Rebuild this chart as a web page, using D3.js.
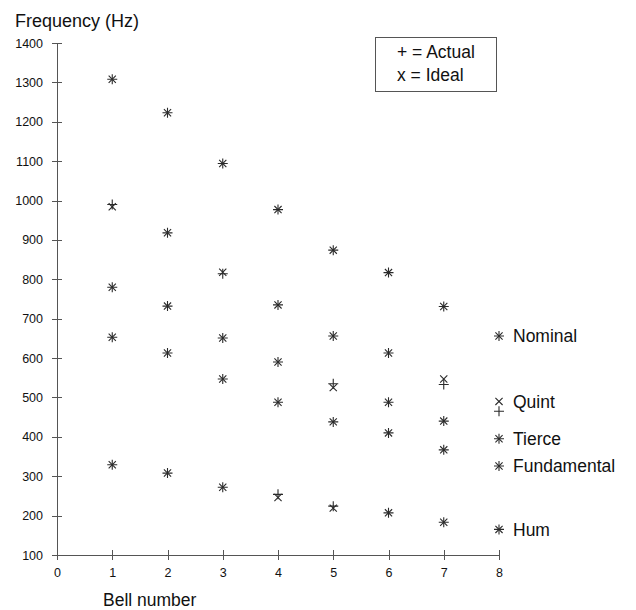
<html lang="en">
    <head>
        <meta charset="utf-8">
        <title>Bell partial frequencies</title>
        <style>
			body {
				margin: 0;
				background-color: white;
			}
			svg text {
				font-family: "Liberation Sans", Arial, Helvetica, sans-serif;
				fill: #111;
			}
			.axis path,
			.axis line {
				fill: none;
				stroke: #555;
				shape-rendering: crispEdges;
			}
			.axis text {
				font-size: 12.5px;
			}
			.mark {
				fill: none;
				stroke: #2a2a2a;
				stroke-width: 1.1;
			}
        </style>
    </head>

    <body>
    </body>

    <script type="text/javascript" src="https://cdnjs.cloudflare.com/ajax/libs/d3/7.8.5/d3.min.js"></script>

    <script type="text/javascript">
		// data
		var bells = [1, 2, 3, 4, 5, 6, 7, 8];
		var partials = ["Hum", "Fundamental", "Tierce", "Quint", "Nominal"];

		// actual frequencies (+)
		var actHum         = [329, 308, 272, 254, 224, 207, 183, 165];
		var actFundamental = [653, 613, 547, 488, 438, 410, 367, 326];
		var actTierce      = [780, 732, 651, 590, 535, 488, 440, 395];
		var actQuint       = [990, 918, 814, 735, 656, 613, 533, 465];
		var actNominal     = [1308, 1223, 1094, 977, 874, 817, 731, 656];

		// ideal frequencies (x)
		var idealHum         = [329, 308, 272, 246, 219, 207, 183, 165];
		var idealFundamental = [653, 613, 547, 488, 438, 410, 367, 326];
		var idealTierce      = [780, 732, 651, 590, 525, 488, 440, 395];
		var idealQuint       = [984, 918, 818, 735, 656, 613, 547, 490];
		var idealNominal     = [1308, 1223, 1094, 977, 874, 817, 731, 656];

		var xTicks = [0, 1, 2, 3, 4, 5, 6, 7, 8];
		var yTicks = [100, 200, 300, 400, 500, 600, 700, 800, 900, 1000, 1100, 1200, 1300, 1400];

		var actual = [actHum, actFundamental, actTierce, actQuint, actNominal];
		var ideal = [idealHum, idealFundamental, idealTierce, idealQuint, idealNominal];

		var fullWidth = 636;
		var fullHeight = 610;

		var svg = d3.select("body")
		            .append("svg")
		            .attr("width", fullWidth)
		            .attr("height", fullHeight);

		var xScale = d3.scaleLinear().domain([0, 8]).range([57, 499]);
		var yScale = d3.scaleLinear().domain([100, 1400]).range([555, 43]);

		// axes, ticks cross the line on both sides
		var xAxis = d3.axisBottom(xScale)
		              .tickValues(xTicks)
		              .tickFormat(d3.format("d"))
		              .tickSizeInner(5)
		              .tickSizeOuter(0)
		              .tickPadding(8);
		var yAxis = d3.axisLeft(yScale)
		              .tickValues(yTicks)
		              .tickFormat(d3.format("d"))
		              .tickSizeInner(5)
		              .tickSizeOuter(0)
		              .tickPadding(9);

		var gx = svg.append("g")
		   .attr("class", "axis")
		   .attr("transform", "translate(0," + yScale(100) + ")")
		   .call(xAxis);
		gx.selectAll(".tick line").attr("y1", -5);

		var gy = svg.append("g")
		   .attr("class", "axis")
		   .attr("transform", "translate(" + xScale(0) + ",0)")
		   .call(yAxis);
		gy.selectAll(".tick line").attr("x1", 5);

		// axis titles
		svg.append("text")
		   .attr("x", 15).attr("y", 27)
		   .style("font-size", "18px")
		   .text("Frequency (Hz)");

		svg.append("text")
		   .attr("x", 103).attr("y", 606)
		   .style("font-size", "17.5px")
		   .text("Bell number");

		// markers
		var plusPath = "M-5,0H5M0,-5V5";
		var crossPath = "M-3.6,-3.6L3.6,3.6M-3.6,3.6L3.6,-3.6";

		var points = [];
		partials.forEach(function(p, i) {
			bells.forEach(function(b, j) {
				points.push({bell: b, value: actual[i][j], kind: "actual"});
				points.push({bell: b, value: ideal[i][j], kind: "ideal"});
			});
		});

		svg.append("g")
		   .selectAll("path")
		   .data(points).enter()
		   .append("path")
		   .attr("class", "mark")
		   .attr("transform", function(d) {
		       return "translate(" + xScale(d.bell) + "," + yScale(d.value) + ")";
		   })
		   .attr("d", function(d) { return d.kind == "actual" ? plusPath : crossPath; });

		// partial names beside bell 8
		svg.append("g")
		   .selectAll("text")
		   .data(partials).enter()
		   .append("text")
		   .attr("x", xScale(8) + 14)
		   .attr("y", function(d, i) { return yScale(ideal[i][7]); })
		   .attr("dy", "0.35em")
		   .style("font-size", "17.5px")
		   .text(function(d) { return d; });

		// legend box
		svg.append("rect")
		   .attr("x", 375.5).attr("y", 37.5)
		   .attr("width", 121).attr("height", 54)
		   .attr("fill", "none")
		   .attr("stroke", "#555");

		svg.append("text")
		   .attr("x", 397).attr("y", 58)
		   .style("font-size", "17.5px")
		   .text("+ = Actual");
		svg.append("text")
		   .attr("x", 397).attr("y", 81)
		   .style("font-size", "17.5px")
		   .text("x = Ideal");
    </script>
</html>
